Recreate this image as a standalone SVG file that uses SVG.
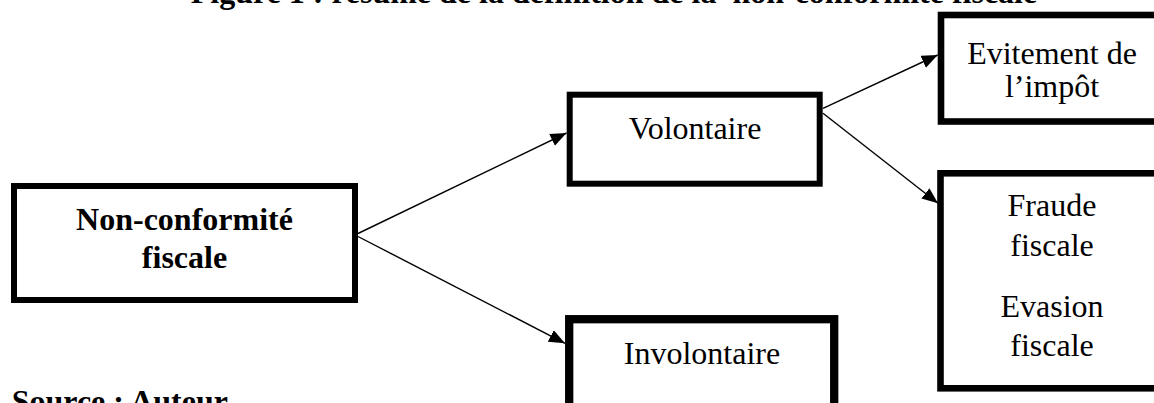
<svg xmlns="http://www.w3.org/2000/svg" width="1154" height="403" viewBox="0 0 1154 403">
<style>
.box{fill:#fff;stroke:#000;stroke-width:6}
.t{font-family:"Liberation Serif","Times New Roman",serif;font-size:32px;fill:#000;text-anchor:middle}
.b{font-weight:bold}
.c{stroke:#000;stroke-width:1.4;fill:none;marker-end:url(#ah)}
</style>
<defs>
<marker id="ah" markerUnits="userSpaceOnUse" markerWidth="18" markerHeight="14" refX="16" refY="6.5" orient="auto">
<path d="M0,0 L16,6.5 L0,13 z" fill="#000"/>
</marker>
</defs>
<rect width="1154" height="403" fill="#fff"/>
<text class="t b" x="614" y="3" xml:space="preserve">Figure 1 : résumé de la définition de la  non-conformité fiscale</text>
<g id="connectors">
<line class="c" x1="358" y1="233.5" x2="566.5" y2="133"/>
<line class="c" x1="358" y1="236.5" x2="565" y2="343.3"/>
<line class="c" x1="823" y1="108.3" x2="937.7" y2="55"/>
<line class="c" x1="823" y1="113.3" x2="938" y2="203.3"/>
</g>
<g id="non-conformite">
<rect class="box" x="14" y="186" width="341" height="114"/>
<text class="t b" x="184.5" y="230">Non-conformité</text>
<text class="t b" x="184.5" y="268">fiscale</text>
</g>
<g id="volontaire">
<rect class="box" x="569.7" y="94.7" width="250" height="89"/>
<text class="t" x="695" y="139">Volontaire</text>
</g>
<g id="involontaire">
<rect class="box" x="569.2" y="319.2" width="265" height="200" style="stroke-width:8.3"/>
<text class="t" x="702" y="364">Involontaire</text>
</g>
<g id="evitement">
<rect class="box" x="941" y="15" width="300" height="106.5" style="stroke-width:6.6"/>
<text class="t" x="1052" y="63.5">Evitement de</text>
<text class="t" x="1052" y="97">l’impôt</text>
</g>
<g id="fraude">
<rect class="box" x="940.5" y="173.3" width="300" height="215" style="stroke-width:6.6"/>
<text class="t" x="1052" y="216">Fraude</text>
<text class="t" x="1052" y="256">fiscale</text>
<text class="t" x="1052" y="317">Evasion</text>
<text class="t" x="1052" y="356">fiscale</text>
</g>
<text class="t b" x="11.7" y="411.6" style="text-anchor:start">Source : Auteur</text>
</svg>
